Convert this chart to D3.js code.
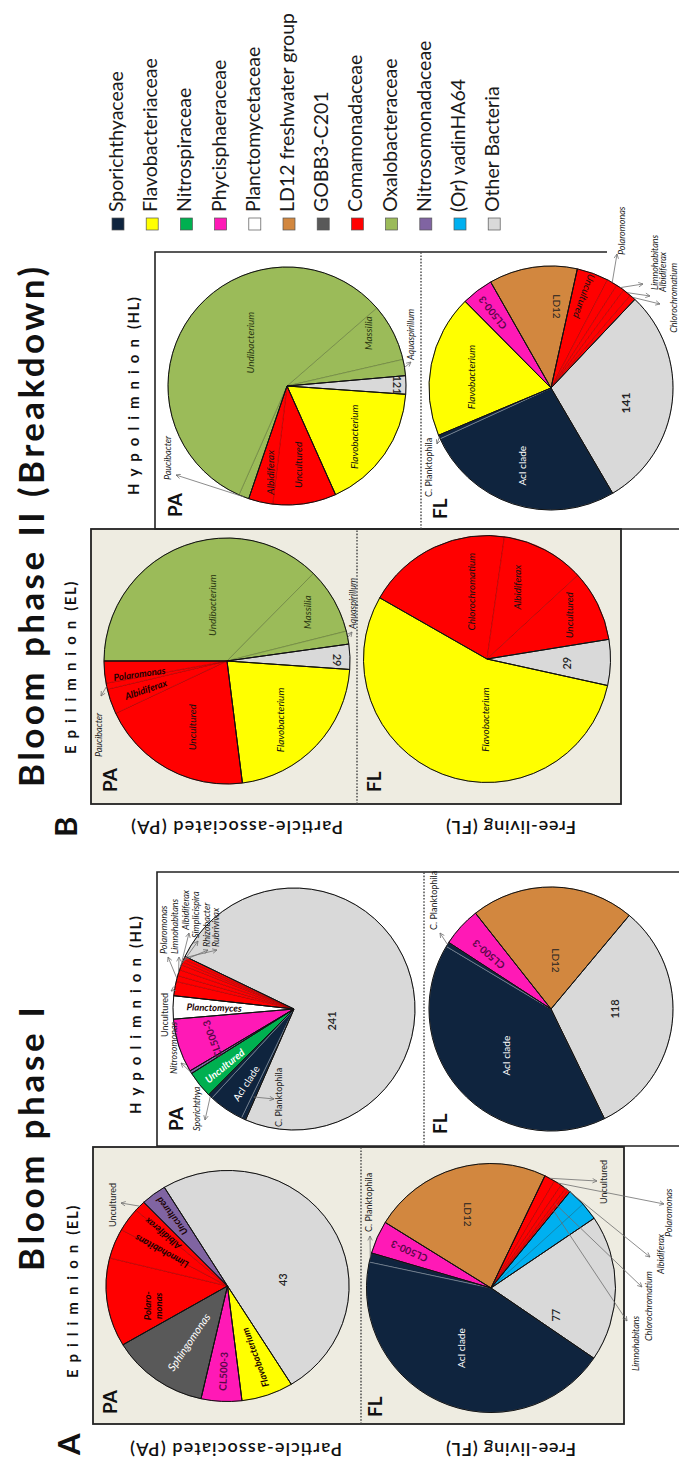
<!DOCTYPE html>
<html>
<head>
<meta charset="utf-8">
<script src="https://cdn.jsdelivr.net/npm/d3@7"></script>
<style>
  html, body { margin: 0; padding: 0; background: #ffffff; }
  svg { display: block; }
  text { font-family: Lato, "Open Sans", "DejaVu Sans", sans-serif; }
</style>
</head>
<body>
<svg id="fig" width="679" height="1461"></svg>
<script>
// ---------------------------------------------------------------------------
// Families (legend order) and their colours
// ---------------------------------------------------------------------------
const familyNames = [
  "Sporichthyaceae", "Flavobacteriaceae", "Nitrospiraceae", "Phycisphaeraceae",
  "Planctomycetaceae", "LD12 freshwater group", "GOBB3-C201", "Comamonadaceae",
  "Oxalobacteraceae", "Nitrosomonadaceae", "(Or) vadinHA64", "Other Bacteria"
];
const familyColors = [
  "#0f243e", "#ffff00", "#00b050", "#ff19b6",
  "#ffffff", "#d2873f", "#595959", "#ff0000",
  "#9bbb59", "#8064a2", "#00b0f0", "#d9d9d9"
];

// ---------------------------------------------------------------------------
// Relative abundance (%) of each genus / lineage, listed clockwise
// [genus, family, percent]
// ---------------------------------------------------------------------------
// Bloom phase I - epilimnion, particle-associated
const p1ElPa = [
  ["Polaromonas", "Comamonadaceae", 12.4],
  ["Limnohabitans", "Comamonadaceae", 4.2],
  ["Albidiferax", "Comamonadaceae", 3.3],
  ["Uncultured", "Comamonadaceae", 1.5],
  ["Uncultured", "Nitrosomonadaceae", 3.4],
  ["Other", "Other Bacteria", 49.9],
  ["Flavobacterium", "Flavobacteriaceae", 6.9],
  ["CL500-3", "Phycisphaeraceae", 5.4],
  ["Sphingomonas", "GOBB3-C201", 13.0]
];
// Bloom phase I - epilimnion, free-living
const p1ElFl = [
  ["C. Planktophila", "Sporichthyaceae", 1.2],
  ["CL500-3", "Phycisphaeraceae", 4.3],
  ["LD12", "LD12 freshwater group", 23.3],
  ["Uncultured", "Comamonadaceae", 1.4],
  ["Polaromonas", "Comamonadaceae", 1.0],
  ["Albidiferax", "Comamonadaceae", 0.7],
  ["Chlorochromatium", "Comamonadaceae", 0.4],
  ["Limnohabitans", "Comamonadaceae", 0.3],
  ["vadinHA64 a", "(Or) vadinHA64", 2.3],
  ["vadinHA64 b", "(Or) vadinHA64", 2.3],
  ["Other", "Other Bacteria", 19.0],
  ["AcI clade", "Sporichthyaceae", 43.8]
];
// Bloom phase I - hypolimnion, particle-associated
const p1HlPa = [
  ["C. Planktophila", "Sporichthyaceae", 0.6],
  ["AcI clade", "Sporichthyaceae", 4.7],
  ["Sporichthya", "Sporichthyaceae", 0.6],
  ["Uncultured", "Nitrospiraceae", 3.6],
  ["Nitrosomonas", "Nitrosomonadaceae", 0.4],
  ["CL500-3", "Phycisphaeraceae", 7.2],
  ["Planctomyces", "Planctomycetaceae", 3.1],
  ["Uncultured", "Comamonadaceae", 1.9],
  ["Polaromonas", "Comamonadaceae", 0.8],
  ["Limnohabitans", "Comamonadaceae", 0.8],
  ["Albidiferax", "Comamonadaceae", 0.7],
  ["Simplicispira", "Comamonadaceae", 0.4],
  ["Rhizobacter", "Comamonadaceae", 0.4],
  ["Rubrivivax", "Comamonadaceae", 0.4],
  ["Other", "Other Bacteria", 74.4]
];
// Bloom phase I - hypolimnion, free-living
const p1HlFl = [
  ["AcI clade", "Sporichthyaceae", 40.8],
  ["C. Planktophila", "Sporichthyaceae", 0.6],
  ["CL500-3", "Phycisphaeraceae", 5.2],
  ["LD12", "LD12 freshwater group", 21.7],
  ["Other", "Other Bacteria", 31.7]
];
// Bloom phase II - epilimnion, particle-associated
const p2ElPa = [
  ["Undibacterium", "Oxalobacteraceae", 37.4],
  ["Massilia", "Oxalobacteraceae", 8.7],
  ["Aquaspirillum", "Oxalobacteraceae", 1.7],
  ["Other", "Other Bacteria", 3.3],
  ["Flavobacterium", "Flavobacteriaceae", 21.9],
  ["Uncultured", "Comamonadaceae", 20.0],
  ["Albidiferax", "Comamonadaceae", 3.3],
  ["Paucibacter", "Comamonadaceae", 0.8],
  ["Polaromonas", "Comamonadaceae", 2.9]
];
// Bloom phase II - epilimnion, free-living
const p2ElFl = [
  ["Chlorochromatium", "Comamonadaceae", 19.0],
  ["Albidiferax", "Comamonadaceae", 10.9],
  ["Uncultured", "Comamonadaceae", 9.3],
  ["Other", "Other Bacteria", 6.0],
  ["Flavobacterium", "Flavobacteriaceae", 54.8]
];
// Bloom phase II - hypolimnion, particle-associated
const p2HlPa = [
  ["Massilia", "Oxalobacteraceae", 7.8],
  ["Aquaspirillum", "Oxalobacteraceae", 2.2],
  ["Other", "Other Bacteria", 2.5],
  ["Flavobacterium", "Flavobacteriaceae", 17.2],
  ["Uncultured", "Comamonadaceae", 8.6],
  ["Albidiferax", "Comamonadaceae", 3.3],
  ["Paucibacter", "Oxalobacteraceae", 1.4],
  ["Undibacterium", "Oxalobacteraceae", 57.0]
];
// Bloom phase II - hypolimnion, free-living
const p2HlFl = [
  ["Flavobacterium", "Flavobacteriaceae", 18.9],
  ["CL500-3", "Phycisphaeraceae", 4.2],
  ["LD12", "LD12 freshwater group", 11.7],
  ["Uncultured", "Comamonadaceae", 4.2],
  ["Polaromonas", "Comamonadaceae", 1.4],
  ["Limnohabitans", "Comamonadaceae", 1.1],
  ["Albidiferax", "Comamonadaceae", 1.1],
  ["Chlorochromatium", "Comamonadaceae", 0.8],
  ["Other", "Other Bacteria", 29.5],
  ["AcI clade", "Sporichthyaceae", 26.6],
  ["C. Planktophila", "Sporichthyaceae", 0.5]
];

// ---------------------------------------------------------------------------
// Layout. The figure is composed in landscape (1461 x 679) and then turned a
// quarter turn counter-clockwise onto the portrait page.
// ---------------------------------------------------------------------------
const W = 1461;
const pies = [
  { slices: p1ElPa, cx: 175,  cy: 227.5, rx: 115.5, ry: 121.5, start: -30.6 },
  { slices: p1ElFl, cx: 173,  cy: 491,   rx: 124.5, ry: 124.5, start: 12 },
  { slices: p1HlPa, cx: 452,  cy: 294,   rx: 121,   ry: 121,   start: 293.6 },
  { slices: p1HlFl, cx: 452,  cy: 551,   rx: 122,   ry: 122,   start: 244 },
  { slices: p2ElPa, cx: 800,  cy: 227,   rx: 123,   ry: 123,   start: 0 },
  { slices: p2ElFl, cx: 802,  cy: 487,   rx: 123.5, ry: 123.5, start: 29.7 },
  { slices: p2HlPa, cx: 1075, cy: 287,   rx: 119,   ry: 119,   start: 139 },
  { slices: p2HlFl, cx: 1073, cy: 551,   rx: 122,   ry: 122,   start: 337.2 }
];

// labels inside the pies: [text, angle(deg), radius fraction, rotation, style]
// rotation: number, "in" (reads toward centre) or "out" (reads toward rim)
const innerLabels = [
  [ ["Polaro-|monas", -15.5, 0.64, 0, "bit"], ["Limnohabitans", 28.5, 0.62, "out", "bit"],
    ["Albidiferax", 40, 0.70, "out", "bit"], ["Uncultured", 52.5, 0.76, "out", "bit"],
    ["43", 173, 0.45, 0, "num"], ["Flavobacterium", 250, 0.66, "in", "bit"],
    ["CL500-3", 272.8, 0.74, "in", "bm"], ["Sphingomonas", 304, 0.58, "in", "itw"] ],
  [ ["AcI clade", 296.6, 0.54, 0, "w"], ["77", 203, 0.56, 0, "num"],
    ["LD12", 72.6, 0.62, 180, "n"], ["CL500-3", 24, 0.72, "out", "bm"] ],
  [ ["241", 198, 0.32, 0, "num"], ["Planctomyces", 1.4, 0.66, "in", "bit"],
    ["CL500-3", 340, 0.72, -20, "bm"], ["Uncultured", 320.8, 0.74, "in", "bitw"],
    ["AcI clade", 303, 0.73, "in", "w"] ],
  [ ["AcI clade", 313.8, 0.53, 0, "w"], ["118", 180, 0.52, 0, "num"],
    ["LD12", 96, 0.40, 180, "n"], ["CL500-3", 41, 0.68, "out", "bm"] ],
  [ ["Undibacterium", 75, 0.47, 0, "itd"], ["Massilia", 148.5, 0.76, 0, "itd"],
    ["29", 179.5, 0.90, 180, "num"], ["Flavobacterium", 228, 0.645, 0, "it"],
    ["Uncultured", 298, 0.61, 0, "it"], ["Polaromonas", 352, 0.72, "in", "bit"],
    ["Albidiferax", 341, 0.70, "in", "bit"] ],
  [ ["Flavobacterium", 272, 0.49, 0, "it"], ["29", 183, 0.64, 0, "num"],
    ["Chlorochromatium", 76.6, 0.56, 0, "it"], ["Albidiferax", 112.6, 0.63, 0, "it"],
    ["Uncultured", 151.8, 0.75, 0, "it"] ],
  [ ["Undibacterium", 49.3, 0.48, 0, "itd"], ["Massilia", 146.8, 0.81, 0, "itd"],
    ["121", 179.5, 0.93, 180, "num"], ["Flavobacterium", 217, 0.71, 0, "it"],
    ["Uncultured", 262, 0.67, 0, "it"], ["Albidiferax", 281, 0.74, 0, "it"] ],
  [ ["Flavobacterium", 7.8, 0.66, 0, "it"], ["CL500-3", 52, 0.78, "out", "bm"],
    ["LD12", 94, 0.67, 180, "n"], ["Uncultured", 110, 0.80, "in", "it"],
    ["141", 191.5, 0.62, 0, "numb"], ["AcI clade", 290.4, 0.68, 0, "w"] ]
];

// call-outs: [pie, slice, radius fraction of arrow tail, text, x, y, anchor, style, arrow head x, y]
const callouts = [
  [0, 3, 1.0, "Uncultured", 234, 116, "start", "annr", 258, 121],
  [1, 0, 1.0, "C. Planktophila", 229, 372, "start", "annr", 225, 370],
  [1, 3, 1.0, "Uncultured", 257, 607, "start", "annr", 280, 597],
  [1, 4, 1.0, "Polaromonas", 224, 672, "start", "ann", 257, 664],
  [1, 5, 1.0, "Albidiferax", 187, 664, "start", "ann", 204, 650],
  [1, 6, 0.85, "Chlorochromatium", 120, 652, "start", "ann", 174, 642],
  [1, 7, 0.80, "Limnohabitans", 90, 639, "start", "ann", 140, 627],
  [2, 2, 1.0, "Sporichthya", 330, 200, "start", "ann", 341, 205],
  [2, 4, 1.0, "Nitrosomonas", 387, 177, "start", "ann", 398, 181],
  [2, 0, 0.8, "C. Planktophila", 334, 282, "start", "annr", 362, 274],
  [2, 7, 1.0, "Uncultured", 424, 168, "start", "annr", 470, 171],
  [2, 8, 1.0, "Polaromonas", 507, 167, "start", "ann", 504, 168],
  [2, 9, 1.0, "Limnohabitans", 507, 178, "start", "ann", 504, 179],
  [2, 10, 1.0, "Albidiferax", 531, 189, "start", "ann", 528, 189],
  [2, 11, 1.0, "Simplicispira", 523, 199, "start", "ann", 520, 198],
  [2, 12, 1.0, "Rhizobacter", 514, 210, "start", "ann", 511, 208],
  [2, 13, 1.0, "Rubrivivax", 514, 219, "start", "ann", 511, 217],
  [3, 1, 1.0, "C. Planktophila", 531, 437, "start", "annr", 528, 440],
  [4, 7, 1.0, "Paucibacter", 704, 102, "start", "ann", 765, 101],
  [4, 2, 1.0, "Aquaspirillum", 832, 356, "start", "ann", 829, 352],
  [6, 6, 1.0, "Paucibacter", 981, 171, "start", "ann", 986, 176],
  [6, 1, 1.0, "Aquaspirillum", 1101, 414, "start", "ann", 1099, 411],
  [7, 10, 1.0, "C. Planktophila", 964, 432, "start", "annr", 1017, 437],
  [7, 4, 1.0, "Polaromonas", 1206, 625, "start", "ann", 1207, 617],
  [7, 5, 1.0, "Limnohabitans", 1171, 658, "start", "ann", 1177, 643],
  [7, 6, 1.0, "Albidiferax", 1169, 666, "start", "ann", 1165, 650],
  [7, 7, 1.0, "Chlorochromatium", 1198, 677, "end", "ann", 1157, 660]
];

const textStyles = {
  it:   { size: 10,  fill: "#111",    style: "italic", weight: 400 },
  itd:  { size: 10,  fill: "#2b3912", style: "italic", weight: 400 },
  bit:  { size: 9.5, fill: "#1a0000", style: "italic", weight: 700 },
  bm:   { size: 10,  fill: "#5a0748", style: "normal", weight: 700 },
  w:    { size: 10,  fill: "#ffffff", style: "normal", weight: 400 },
  itw:  { size: 11,  fill: "#ffffff", style: "italic", weight: 400 },
  bitw: { size: 10,  fill: "#ffffff", style: "italic", weight: 700 },
  n:    { size: 10,  fill: "#222",    style: "normal", weight: 400 },
  num:  { size: 11,  fill: "#222",    style: "normal", weight: 600 },
  numb: { size: 12,  fill: "#222",    style: "normal", weight: 700 },
  ann:  { size: 9,   fill: "#222",    style: "italic", weight: 400 },
  annr: { size: 9,   fill: "#222",    style: "normal", weight: 400 }
};

// ---------------------------------------------------------------------------
const svg = d3.select("#fig");
const defs = svg.append("defs");
defs.append("marker")
  .attr("id", "head").attr("viewBox", "0 0 10 10")
  .attr("refX", 9).attr("refY", 5)
  .attr("markerWidth", 7).attr("markerHeight", 7)
  .attr("orient", "auto")
  .append("path").attr("d", "M1,1 L9,5 L1,9")
  .attr("fill", "none").attr("stroke", "#6e6e6e").attr("stroke-width", 1.3);

const root = svg.append("g").attr("transform", `translate(0,${W}) rotate(-90)`);
const colour = d3.scaleOrdinal().domain(familyNames).range(familyColors);
const rad = Math.PI / 180;

function styled(sel, key) {
  const s = textStyles[key];
  return sel.attr("font-size", s.size).attr("fill", s.fill)
    .attr("font-style", s.style).attr("font-weight", s.weight);
}
function polar(p, deg, rf) {
  return [p.cx + p.rx * rf * Math.sin(deg * rad), p.cy - p.ry * rf * Math.cos(deg * rad)];
}
function innerStroke(c) {
  const h = d3.hsl(c);
  return h.l < 0.3 ? d3.interpolateRgb(c, "#ffffff")(0.5) : d3.color(c).darker(1.2).formatHex();
}

// ---------------- panels ----------------
const panels = root.append("g");
// epilimnion panels (shaded)
[[37, 93, 277, 531, 361], [657, 91, 275, 530, 357]].forEach(([x, y, w, h, div]) => {
  panels.append("rect").attr("x", x).attr("y", y).attr("width", w).attr("height", h)
    .attr("fill", "#eeece1").attr("stroke", "#222").attr("stroke-width", 1.8);
  panels.append("line").attr("x1", x).attr("x2", x + w).attr("y1", div).attr("y2", div)
    .attr("stroke", "#444").attr("stroke-width", 1.4).attr("stroke-dasharray", "1.6,1.6");
});
// hypolimnion panels (open to the page edge)
panels.append("path").attr("d", "M315,720 V157 H589 V720")
  .attr("fill", "none").attr("stroke", "#222").attr("stroke-width", 1.6);
panels.append("line").attr("x1", 315).attr("x2", 589).attr("y1", 424).attr("y2", 424)
  .attr("stroke", "#444").attr("stroke-width", 1.4).attr("stroke-dasharray", "1.6,1.6");
panels.append("path").attr("d", "M932,720 V155 H1209 V607")
  .attr("fill", "none").attr("stroke", "#222").attr("stroke-width", 1.6);
panels.append("line").attr("x1", 932).attr("x2", 1209).attr("y1", 421).attr("y2", 421)
  .attr("stroke", "#444").attr("stroke-width", 1.4).attr("stroke-dasharray", "1.6,1.6");

// ---------------- pies ----------------
pies.forEach((p, pi) => {
  const a0 = p.start * rad;
  const arcs = d3.pie().sort(null).value(d => d[2]).startAngle(a0).endAngle(a0 + 2 * Math.PI)(p.slices);
  p.arcs = arcs;
  const arcGen = d3.arc().innerRadius(0).outerRadius(p.ry);
  const g = root.append("g").attr("transform", `translate(${p.cx},${p.cy}) scale(${p.rx / p.ry},1)`);
  g.selectAll("path.slice").data(arcs).join("path")
    .attr("class", "slice")
    .attr("d", arcGen)
    .attr("fill", d => colour(d.data[1]))
    .attr("stroke", d => innerStroke(colour(d.data[1])))
    .attr("stroke-width", 0.6)
    .attr("vector-effect", "non-scaling-stroke");
  // outline each run of slices that share a family
  const runs = [];
  arcs.forEach(a => {
    const last = runs[runs.length - 1];
    if (last && last.fam === a.data[1]) last.endAngle = a.endAngle;
    else runs.push({ fam: a.data[1], startAngle: a.startAngle, endAngle: a.endAngle });
  });
  if (runs.length > 1 && runs[0].fam === runs[runs.length - 1].fam) {
    const tail = runs.pop();
    runs[0].startAngle = tail.startAngle - 2 * Math.PI;
  }
  g.selectAll("path.run").data(runs).join("path")
    .attr("class", "run")
    .attr("d", d => arcGen(d))
    .attr("fill", "none").attr("stroke", "#111").attr("stroke-width", 1)
    .attr("stroke-linejoin", "round")
    .attr("vector-effect", "non-scaling-stroke");

  // labels inside slices
  innerLabels[pi].forEach(([txt, deg, rf, rot, st]) => {
    const [x, y] = polar(p, deg, rf);
    const r = rot === "in" ? deg + 90 : rot === "out" ? deg - 90 : rot;
    const t = root.append("text")
      .attr("transform", `translate(${x},${y}) rotate(${r})`)
      .attr("text-anchor", "middle").attr("dominant-baseline", "central");
    styled(t, st);
    const lines = txt.split("|");
    lines.forEach((ln, i) => {
      t.append("tspan").attr("x", 0)
        .attr("dy", i === 0 ? `${-(lines.length - 1) * 0.55}em` : "1.1em").text(ln);
    });
  });
});

// ---------------- call-outs ----------------
const co = root.append("g");
callouts.forEach(([pi, si, rf, txt, x, y, anchor, st, hx, hy]) => {
  const p = pies[pi];
  const a = p.arcs[si];
  const mid = (a.startAngle + a.endAngle) / 2 / rad;
  const [tx, ty] = polar(p, mid, rf);
  co.append("line").attr("x1", tx).attr("y1", ty).attr("x2", hx).attr("y2", hy)
    .attr("stroke", "#6e6e6e").attr("stroke-width", 0.8).attr("marker-end", "url(#head)");
  styled(co.append("text").attr("x", x).attr("y", y).attr("text-anchor", anchor).text(txt), st);
});

// ---------------- headings ----------------
const hd = root.append("g").attr("fill", "#111");
hd.append("text").attr("x", 6).attr("y", 80).attr("font-size", 31).attr("font-weight", 700).text("A");
hd.append("text").attr("x", 624).attr("y", 77).attr("font-size", 31).attr("font-weight", 700).text("B");
hd.append("text").attr("x", 190).attr("y", 44).attr("font-size", 35).attr("font-weight", 700)
  .attr("textLength", 264).attr("lengthAdjust", "spacing").text("Bloom phase I");
hd.append("text").attr("x", 674).attr("y", 44).attr("font-size", 35).attr("font-weight", 700)
  .attr("textLength", 520).attr("lengthAdjust", "spacing").text("Bloom phase II (Breakdown)");

function spacedTitle(x, y, word, tag) {
  const t = hd.append("text").attr("x", x).attr("y", y).attr("font-size", 15).attr("font-weight", 700);
  t.append("tspan").attr("letter-spacing", 7).text(word);
  t.append("tspan").attr("dx", 3).attr("letter-spacing", 1.5).text(tag);
}
spacedTitle(83, 78, "Epilimnion", "(EL)");
spacedTitle(347, 141, "Hypolimnion", "(HL)");
spacedTitle(707, 76, "Epilimnion", "(EL)");
spacedTitle(966, 139, "Hypolimnion", "(HL)");

// row labels along the left edge of each phase
[[18, 236, "Particle-associated (PA)", 212], [18, 511, "Free-living (FL)", 130],
 [640, 237, "Particle-associated (PA)", 212], [640, 511, "Free-living (FL)", 130]].forEach(([x, y, s, len]) => {
  hd.append("text").attr("transform", `translate(${x},${y}) rotate(-90)`)
    .attr("text-anchor", "middle").attr("font-size", 18).attr("font-weight", 600)
    .attr("textLength", len).attr("lengthAdjust", "spacing").text(s);
});

// fraction tags inside the panels
[[47, 117, "PA"], [44, 382, "FL"], [330, 183, "PA"], [327, 447, "FL"],
 [669, 117, "PA"], [669, 381, "FL"], [944, 182, "PA"], [942, 447, "FL"]].forEach(([x, y, s]) => {
  hd.append("text").attr("x", x).attr("y", y).attr("font-size", 19).attr("font-weight", 700).text(s);
});

// ---------------- legend ----------------
const lg = root.append("g");
const rowY = d3.scalePoint().domain(familyNames).range([112, 112 + 34.2 * 11]);
familyNames.forEach(f => {
  lg.append("rect").attr("x", 1231).attr("y", rowY(f)).attr("width", 12).attr("height", 12)
    .attr("fill", colour(f)).attr("stroke", "#555").attr("stroke-width", 0.7);
  lg.append("text").attr("x", 1249).attr("y", rowY(f) + 11).attr("font-size", 19.5)
    .attr("fill", "#1a1a1a").text(f);
});
</script>
</body>
</html>
